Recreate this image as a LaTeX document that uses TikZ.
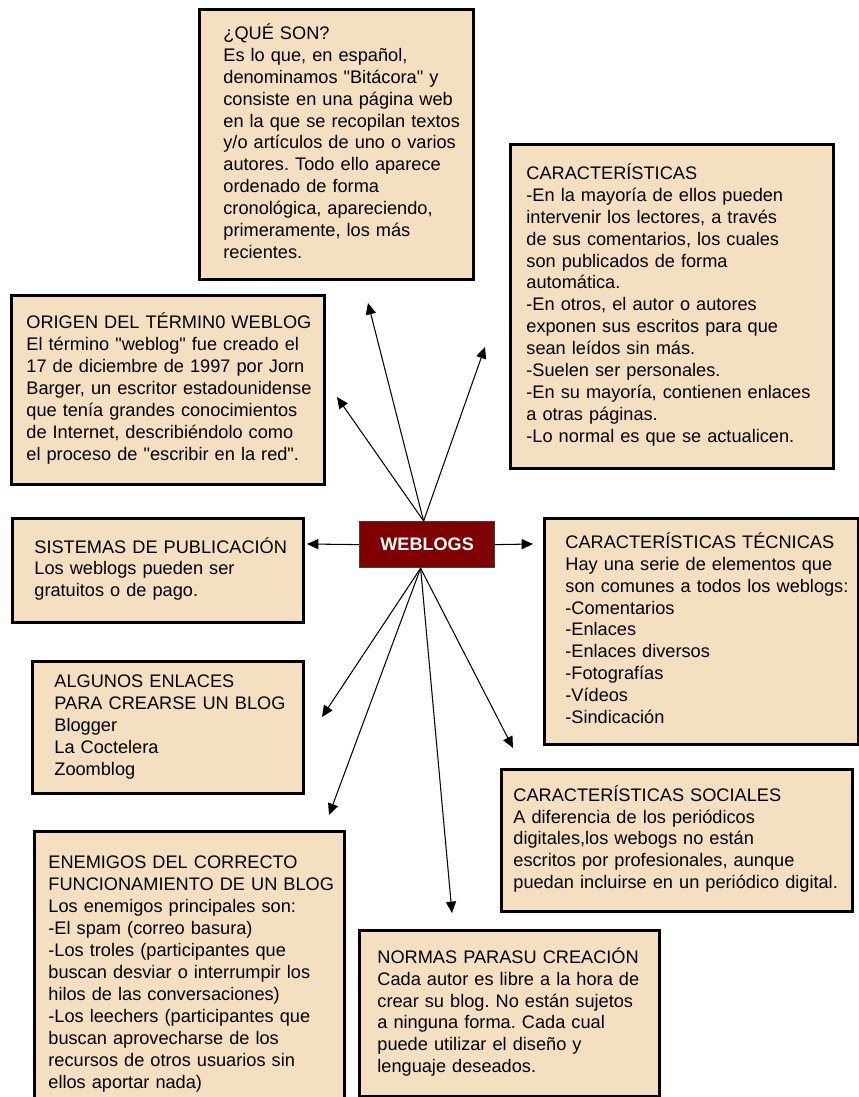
\documentclass[tikz,border=0pt]{standalone}
\usepackage{fontspec}
\setmainfont{Liberation Sans}[Ligatures=TeXOff]
\frenchspacing
\usetikzlibrary{arrows.meta,positioning}
\definecolor{boxColor}{HTML}{F4DFC0}
\definecolor{wbColor}{HTML}{800000}
\tikzset{
	caja/.style={draw, line width=1.6pt, fill=boxColor, anchor=north west, align=left, inner ysep=0pt,
		font=\fontsize{10.35}{12.5}\selectfont},
	wbox/.style={draw=black!75, line width=0.7pt, fill=wbColor, anchor=north west, text=white,
		font=\fontsize{10.3}{12.5}\selectfont\bfseries, minimum width=2.7cm, minimum height=0.92cm}
}

\begin{document}
\begin{tikzpicture}[x=0.02cm, y=-0.02cm, ->, >={Triangle[length=6.5pt,width=5.8pt]}, line width=0.6pt]
	\useasboundingbox (0,0) rectangle (858,1097);
	\node[wbox] (wb) at (359,521) {WEBLOGS};
	
	\node[caja, minimum width=5.48cm, minimum height=5.40cm, inner xsep=0.48cm, text width=4.52cm] (b1) at (198,8) {\begin{tabular}{@{}l@{}} ¿QUÉ SON?\\ Es lo que, en español,\\ denominamos "Bitácora" y\\ consiste en una página web\\ en la que se recopilan textos\\ y/o artículos de uno o varios\\ autores. Todo ello aparece\\ ordenado de forma\\ cronológica, apareciendo,\\ primeramente, los más\\ recientes. \end{tabular}};
	\node[caja, minimum width=6.46cm, minimum height=6.48cm, inner xsep=0.32cm, text width=5.82cm] (b2) at (509,143) {\begin{tabular}{@{}l@{}} CARACTERÍSTICAS\\ -En la mayoría de ellos pueden\\ intervenir los lectores, a través\\ de sus comentarios, los cuales\\ son publicados de forma\\ automática.\\ -En otros, el autor o autores\\ exponen sus escritos para que\\ sean leídos sin más.\\ -Suelen ser personales.\\ -En su mayoría, contienen enlaces\\ a otras páginas.\\ -Lo normal es que se actualicen. \end{tabular}};
	\node[caja, minimum width=6.26cm, minimum height=3.78cm, inner xsep=0.30cm, text width=5.66cm] (b3) at (10,294) {\begin{tabular}{@{}l@{}} ORIGEN DEL TÉRMIN0 WEBLOG\\ El término "weblog" fue creado el\\ 17 de diciembre de 1997 por Jorn\\ Barger, un escritor estadounidense\\ que tenía grandes conocimientos\\ de Internet, describiéndolo como\\ el proceso de "escribir en la red". \end{tabular}};
	\node[caja, minimum width=5.82cm, minimum height=2.08cm, inner xsep=0.44cm, text width=4.94cm] (b4) at (11,517) {\begin{tabular}{@{}l@{}} SISTEMAS DE PUBLICACIÓN\\ Los weblogs pueden ser\\ gratuitos o de pago. \end{tabular}};
	\node[caja, minimum width=6.28cm, minimum height=4.52cm, inner xsep=0.42cm, text width=5.44cm] (b5) at (543,517) {\begin{tabular}{@{}l@{}} CARACTERÍSTICAS TÉCNICAS\\ Hay una serie de elementos que\\ son comunes a todos los weblogs:\\ -Comentarios\\ -Enlaces\\ -Enlaces diversos\\ -Fotografías\\ -Vídeos\\ -Sindicación \end{tabular}};
	\node[caja, minimum width=5.42cm, minimum height=2.64cm, inner xsep=0.44cm, text width=4.54cm] (b6) at (31,660) {\begin{tabular}{@{}l@{}} ALGUNOS ENLACES\\ PARA CREARSE UN BLOG\\ Blogger\\ La Coctelera\\ Zoomblog \end{tabular}};
	\node[caja, minimum width=7.02cm, minimum height=2.84cm, inner xsep=0.24cm, text width=6.54cm] (b7) at (500,768) {\begin{tabular}{@{}l@{}} CARACTERÍSTICAS SOCIALES\\ A diferencia de los periódicos\\ digitales,los webogs no están\\ escritos por profesionales, aunque\\ puedan incluirse en un periódico digital. \end{tabular}};
	\node[caja, minimum width=6.20cm, minimum height=5.70cm, inner xsep=0.28cm, text width=5.64cm] (b8) at (33,830) {\begin{tabular}{@{}l@{}} ENEMIGOS DEL CORRECTO\\ FUNCIONAMIENTO DE UN BLOG\\ Los enemigos principales son:\\ -El spam (correo basura)\\ -Los troles (participantes que\\ buscan desviar o interrumpir los\\ hilos de las conversaciones)\\ -Los leechers (participantes que\\ buscan aprovecharse de los\\ recursos de otros usuarios sin\\ ellos aportar nada) \end{tabular}};
	\node[caja, minimum width=6.00cm, minimum height=3.32cm, inner xsep=0.36cm, text width=5.28cm] (b9) at (358,929) {\begin{tabular}{@{}l@{}} NORMAS PARASU CREACIÓN\\ Cada autor es libre a la hora de\\ crear su blog. No están sujetos\\ a ninguna forma. Cada cual\\ puede utilizar el diseño y\\ lenguaje deseados. \end{tabular}};
	
	\coordinate (up) at ([xshift=-0.07cm]wb.north);
	\coordinate (down) at ([xshift=-0.13cm]wb.south);
	\coordinate (a1) at (368,303);
	\coordinate (a2) at (485,347);
	\coordinate (a3) at (337,397);
	\coordinate (a4) at (307,544);
	\coordinate (a5) at (533,544);
	\coordinate (a6) at (322,717);
	\coordinate (a7) at (513,748);
	\coordinate (a8) at (329,815);
	\coordinate (a9) at (452,913);
	
	\path (up) edge (a1);
	\path (up) edge (a2);
	\path (up) edge (a3);
	\path (wb.west) edge (a4);
	\path (wb.east) edge (a5);
	\path (down) edge (a6);
	\path (down) edge (a7);
	\path (down) edge (a8);
	\path (down) edge (a9);
	%\path (down) edge (b9.north);
\end{tikzpicture}
\end{document}
